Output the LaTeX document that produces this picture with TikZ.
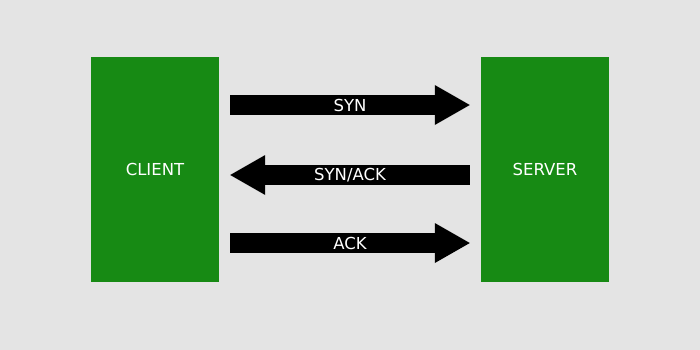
\documentclass[tikz,border=0pt]{standalone}
\usepackage{fontspec}
\setmainfont{DejaVu Sans}
\usetikzlibrary{arrows.meta,positioning}
\definecolor{panelgray}{HTML}{E4E4E4}
\definecolor{hostgreen}{HTML}{178A14}

\begin{document}
\begin{tikzpicture}[
    x=1pt, y=-1pt,
    % Boxes and arrows
    host/.style={rectangle, fill=hostgreen, minimum width=128pt, minimum height=225pt, text=white, font=\fontsize{16.5}{20}\selectfont},
    packet/.style={line width=20pt, -{Triangle[length=35pt, width=40pt, line width=0pt]}},
    tag/.style={text=white, font=\fontsize{16.5}{20}\selectfont}
]

% Background
\fill[panelgray] (0,0) rectangle (700,350);
\useasboundingbox (0,0) rectangle (700,350);

% Endpoints
\node[host] (client) at (155,169.5) {CLIENT};
\node[host] (server) at (545,169.5) {SERVER};

% Handshake
\draw[packet] ([xshift=11pt, yshift=64.5pt]client.east) -- ([xshift=-11pt, yshift=64.5pt]server.west) node[tag, midway] {SYN};
\draw[packet] ([xshift=-11pt, yshift=-5.5pt]server.west) -- ([xshift=11pt, yshift=-5.5pt]client.east) node[tag, midway] {SYN/ACK};
\draw[packet] ([xshift=11pt, yshift=-73.5pt]client.east) -- ([xshift=-11pt, yshift=-73.5pt]server.west) node[tag, midway] {ACK};

\end{tikzpicture}
\end{document}
